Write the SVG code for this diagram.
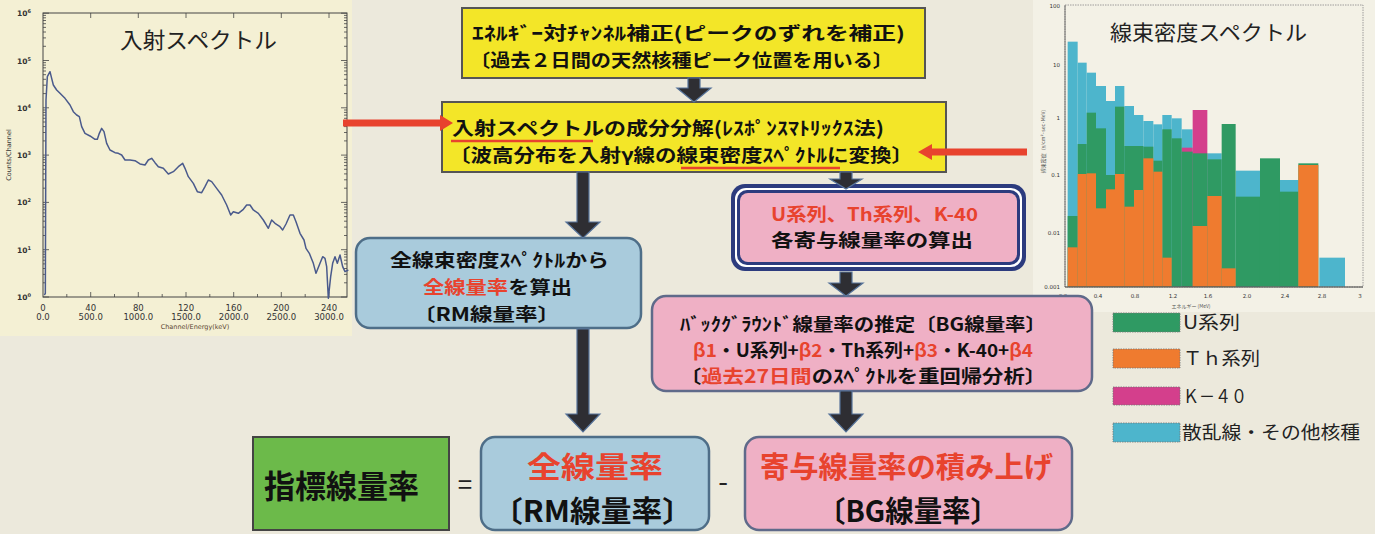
<svg xmlns="http://www.w3.org/2000/svg" width="1375" height="534" viewBox="0 0 1375 534">
<defs>
<style>
.jp{font-family:"Noto Sans CJK JP","Noto Sans",sans-serif;}
.b{font-weight:700;fill:#111;}
.red{fill:#e8432e;}
.ax{font-family:"DejaVu Sans","Liberation Sans",sans-serif;fill:#333;}
.arrow{fill:#2e2e33;stroke:#56739a;stroke-width:1.2;}
.redarrow{fill:#e8432e;}
.cy{fill:#4db5cc;}.gr{fill:#2f9a63;}.or{fill:#ef7b2f;}.mg{fill:#d43f8c;}
.sw{stroke:#777;stroke-width:0.8;stroke-dasharray:1.5 1;}
</style>
<path id="minor" d="M0 282.8h3M0 274.4h3M0 268.5h3M0 263.9h3M0 260.2h3M0 257h3M0 254.3h3M0 251.9h3M0 235.5h3M0 227.1h3M0 221.2h3M0 216.6h3M0 212.9h3M0 209.7h3M0 207h3M0 204.6h3M0 188.2h3M0 179.8h3M0 173.9h3M0 169.3h3M0 165.6h3M0 162.4h3M0 159.7h3M0 157.3h3M0 140.9h3M0 132.5h3M0 126.6h3M0 122h3M0 118.3h3M0 115.1h3M0 112.4h3M0 110h3M0 93.6h3M0 85.2h3M0 79.3h3M0 74.7h3M0 71h3M0 67.8h3M0 65.1h3M0 62.7h3M0 46.3h3M0 37.9h3M0 32h3M0 27.4h3M0 23.7h3M0 20.5h3M0 17.8h3M0 15.4h3M0 297h6M0 249.7h6M0 202.4h6M0 155.1h6M0 107.8h6M0 60.5h6M0 13.2h6" stroke="#444" stroke-width="0.8" fill="none"/>
</defs>
<rect x="0" y="0" width="1375" height="534" fill="#ece9dc"/>

<!-- left chart -->
<g id="chart-left">
<rect x="0" y="0" width="352" height="336" fill="#f4f0d4"/>
<rect x="43" y="13" width="304" height="284" fill="none" stroke="#444" stroke-width="1"/>
<use href="#minor" x="43" y="0"/>
<use href="#minor" transform="translate(347,0) scale(-1,1)"/>
<path d="M90.7 297v-5M138.3 297v-5M186 297v-5M233.7 297v-5M281.3 297v-5M329 297v-5M66.8 297v-3M114.5 297v-3M162.2 297v-3M209.8 297v-3M257.5 297v-3M305.2 297v-3M90.7 13v5M138.3 13v5M186 13v5M233.7 13v5M281.3 13v5M329 13v5" stroke="#444" stroke-width="0.8"/>
<text class="jp" x="120" y="48" font-size="22" fill="#222" textLength="157" lengthAdjust="spacingAndGlyphs">入射スペクトル</text>
<g transform="scale(0.33333)">
<polyline fill="none" stroke="#4a5a8c" stroke-width="4.5" stroke-linejoin="round" points="133,885 136,880 138,300 142,230 150,215 155,235 160,255 170,270 180,280 195,295 210,315 220,335 230,345 238,350 245,380 255,400 270,408 285,418 292,418 298,400 305,385 312,395 320,430 330,450 345,458 355,460 365,465 375,480 390,480 405,482 420,492 435,495 445,480 455,475 465,488 475,500 490,505 505,522 520,515 535,500 548,490 555,505 565,530 580,550 592,575 605,578 615,560 625,540 635,545 650,565 665,585 680,615 692,645 700,635 715,640 730,628 740,615 750,615 760,630 775,640 790,660 805,685 815,660 825,670 840,680 848,690 858,672 870,645 880,645 888,665 900,700 912,720 918,745 928,760 940,790 948,820 960,790 968,770 975,775 980,800 985,895 992,830 998,790 1005,770 1012,790 1020,765 1028,800 1035,815 1045,810"/>
</g>
<g class="ax" font-size="7.5" font-weight="700" text-anchor="end">
<text x="31" y="16">10<tspan dy="-3" font-size="5">6</tspan></text>
<text x="31" y="63.5">10<tspan dy="-3" font-size="5">5</tspan></text>
<text x="31" y="110.8">10<tspan dy="-3" font-size="5">4</tspan></text>
<text x="31" y="158.1">10<tspan dy="-3" font-size="5">3</tspan></text>
<text x="31" y="205.4">10<tspan dy="-3" font-size="5">2</tspan></text>
<text x="31" y="252.7">10<tspan dy="-3" font-size="5">1</tspan></text>
<text x="31" y="300">10<tspan dy="-3" font-size="5">0</tspan></text>
</g>
<g class="ax" font-size="8.5" text-anchor="middle">
<text x="43" y="311">0</text><text x="90.7" y="311">40</text><text x="138.3" y="311">80</text><text x="186" y="311">120</text><text x="233.7" y="311">160</text><text x="281.3" y="311">200</text><text x="329" y="311">240</text>
<text x="43" y="320">0.0</text><text x="90.7" y="320">500.0</text><text x="138.3" y="320">1000.0</text><text x="186" y="320">1500.0</text><text x="233.7" y="320">2000.0</text><text x="281.3" y="320">2500.0</text><text x="329" y="320">3000.0</text>
<text x="195" y="329" font-size="6.5" fill="#5a4630">Channel/Energy(keV)</text>
</g>
<text class="ax" transform="translate(11,155) rotate(-90)" font-size="6.5" text-anchor="middle" fill="#5a4630">Counts/Channel</text>
</g>

<!-- right chart -->
<g id="chart-right">
<rect x="1033" y="0" width="342" height="312" fill="#f3f1e6"/>
<g transform="translate(1030,0) scale(0.33333)">
<g class="cy">
<rect x="113" y="125" width="30" height="735"/><rect x="143" y="188" width="27" height="672"/><rect x="170" y="218" width="28" height="642"/><rect x="198" y="258" width="30" height="602"/><rect x="228" y="303" width="27" height="557"/><rect x="255" y="258" width="28" height="602"/><rect x="283" y="318" width="29" height="542"/><rect x="312" y="345" width="28" height="515"/><rect x="340" y="363" width="30" height="497"/><rect x="370" y="373" width="27" height="487"/><rect x="397" y="345" width="28" height="515"/><rect x="425" y="355" width="30" height="505"/><rect x="455" y="388" width="33" height="472"/><rect x="532" y="460" width="43" height="400"/><rect x="617" y="512" width="73" height="348"/><rect x="750" y="540" width="55" height="320"/><rect x="868" y="773" width="77" height="87"/>
</g>
<g class="mg">
<rect x="455" y="443" width="33" height="417"/><rect x="488" y="330" width="44" height="530"/>
</g>
<g class="gr">
<rect x="113" y="648" width="30" height="212"/><rect x="143" y="432" width="27" height="428"/><rect x="170" y="338" width="28" height="522"/><rect x="198" y="385" width="30" height="475"/><rect x="228" y="525" width="27" height="335"/><rect x="255" y="320" width="28" height="540"/><rect x="283" y="438" width="29" height="422"/><rect x="312" y="438" width="28" height="422"/><rect x="340" y="440" width="30" height="420"/><rect x="370" y="482" width="27" height="378"/><rect x="397" y="388" width="28" height="472"/><rect x="425" y="415" width="30" height="445"/><rect x="455" y="455" width="33" height="405"/><rect x="488" y="460" width="44" height="400"/><rect x="532" y="478" width="43" height="382"/><rect x="575" y="372" width="42" height="488"/><rect x="617" y="590" width="73" height="270"/><rect x="690" y="475" width="60" height="385"/><rect x="750" y="575" width="55" height="285"/><rect x="805" y="490" width="60" height="370"/>
</g>
<g class="or">
<rect x="113" y="742" width="30" height="118"/><rect x="143" y="522" width="27" height="338"/><rect x="170" y="520" width="28" height="340"/><rect x="198" y="625" width="30" height="235"/><rect x="228" y="568" width="27" height="292"/><rect x="255" y="522" width="28" height="338"/><rect x="283" y="620" width="29" height="240"/><rect x="312" y="570" width="28" height="290"/><rect x="340" y="475" width="30" height="385"/><rect x="370" y="515" width="27" height="345"/><rect x="397" y="773" width="28" height="87"/><rect x="488" y="678" width="44" height="182"/><rect x="532" y="588" width="43" height="272"/><rect x="575" y="805" width="42" height="55"/><rect x="805" y="495" width="60" height="365"/>
</g>
</g>
<rect x="1065" y="5" width="298" height="282" fill="none" stroke="#888" stroke-width="0.8" stroke-dasharray="1.5 1"/>
<line x1="1065" y1="287" x2="1363" y2="287" stroke="#444" stroke-width="1"/>
<line x1="1065" y1="5" x2="1065" y2="287" stroke="#555" stroke-width="0.8"/>
<text class="jp" x="1110" y="40" font-size="21" fill="#222" textLength="197" lengthAdjust="spacingAndGlyphs">線束密度スペクトル</text>
<g class="ax" font-size="5.5" fill="#666" text-anchor="end">
<text x="1060" y="8">100</text><text x="1060" y="67">10</text><text x="1060" y="120">1</text><text x="1060" y="177">0.1</text><text x="1060" y="235">0.01</text><text x="1060" y="289">0.001</text>
</g>
<g class="ax" font-size="5.5" fill="#666" text-anchor="middle">
<text x="1063" y="298">0.0</text><text x="1098" y="298">0.4</text><text x="1135" y="298">0.8</text><text x="1173" y="298">1.2</text><text x="1208" y="298">1.6</text><text x="1247" y="298">2.0</text><text x="1285" y="298">2.4</text><text x="1322" y="298">2.8</text><text x="1360" y="298">3</text>
</g>
<text class="jp" x="1191" y="308" font-size="5" fill="#555" text-anchor="middle">エネルギー (MeV)</text>
<text class="jp" transform="translate(1045,140) rotate(-90)" font-size="5" fill="#555" text-anchor="middle">線束密度（γ/cm²·sec·MeV）</text>
</g>

<!-- legend -->
<g id="legend">
<rect class="gr sw" x="1113" y="313" width="67" height="19"/>
<rect class="or sw" x="1113" y="349" width="67" height="19"/>
<rect class="mg sw" x="1113" y="387" width="67" height="18"/>
<rect class="cy sw" x="1113" y="423" width="67" height="19"/>
<g class="jp" font-size="18" fill="#222">
<text x="1183" y="329" textLength="57" lengthAdjust="spacingAndGlyphs">U系列</text>
<text x="1183" y="365" textLength="77" lengthAdjust="spacingAndGlyphs">Ｔｈ系列</text>
<text x="1183" y="403" textLength="64" lengthAdjust="spacingAndGlyphs">Ｋ－４０</text>
<text x="1182" y="439" textLength="178" lengthAdjust="spacingAndGlyphs">散乱線・その他核種</text>
</g>
</g>

<!-- nodes -->
<g id="node-energy-cal">
<rect x="462" y="8" width="463" height="70" fill="#f3e628" stroke="#555" stroke-width="2"/>
<text class="jp b" x="472" y="40" font-size="18" textLength="433" lengthAdjust="spacingAndGlyphs">ｴﾈﾙｷﾞｰ対ﾁｬﾝﾈﾙ補正(ピークのずれを補正)</text>
<text class="jp b" x="470" y="67" font-size="18" textLength="423" lengthAdjust="spacingAndGlyphs">〔過去２日間の天然核種ピーク位置を用いる〕</text>
</g>

<g id="node-decomp">
<rect x="442" y="102" width="504" height="70" fill="#f3e628" stroke="#555" stroke-width="2"/>
<text class="jp b" x="452" y="135" font-size="18.5" textLength="432" lengthAdjust="spacingAndGlyphs">入射スペクトルの成分分解(ﾚｽﾎﾟﾝｽﾏﾄﾘｯｸｽ法)</text>
<text class="jp b" x="449" y="162" font-size="18.5" textLength="464" lengthAdjust="spacingAndGlyphs">〔波高分布を入射γ線の線束密度ｽﾍﾟｸﾄﾙに変換〕</text>
<line x1="451" y1="141" x2="593" y2="141" stroke="#e8432e" stroke-width="2.5"/>
<line x1="681" y1="168" x2="840" y2="168" stroke="#e8432e" stroke-width="2.5"/>
</g>

<g id="node-rm">
<rect x="356" y="238" width="285" height="90" rx="14" fill="#a9cbdc" stroke="#4e6e88" stroke-width="2.5"/>
<text class="jp b" x="390" y="267" font-size="18" textLength="219" lengthAdjust="spacingAndGlyphs">全線束密度ｽﾍﾟｸﾄﾙから</text>
<text class="jp b" x="423" y="294" font-size="18" textLength="149" lengthAdjust="spacingAndGlyphs"><tspan class="red">全線量率</tspan>を算出</text>
<text class="jp b" x="413" y="321" font-size="18" textLength="147" lengthAdjust="spacingAndGlyphs">〔RM線量率〕</text>
</g>

<g id="node-contrib">
<rect x="731" y="184" width="295" height="87" rx="14" fill="#2c3b7e"/>
<rect x="735" y="188" width="287" height="79" rx="11" fill="#ffffff"/>
<rect x="737" y="190" width="283" height="75" rx="10" fill="#2c3b7e"/>
<rect x="740" y="193" width="277" height="69" rx="8" fill="#efb0c5"/>
<text class="jp b red" x="771" y="221" font-size="18" textLength="207" lengthAdjust="spacingAndGlyphs">U系列、Th系列、K-40</text>
<text class="jp b" x="771" y="247" font-size="18" textLength="202" lengthAdjust="spacingAndGlyphs">各寄与線量率の算出</text>
</g>

<g id="node-bg">
<rect x="652" y="296" width="440" height="95" rx="14" fill="#efb0c5" stroke="#5f6a8a" stroke-width="2.5"/>
<text class="jp b" x="680" y="331" font-size="18" textLength="366" lengthAdjust="spacingAndGlyphs">ﾊﾞｯｸｸﾞﾗｳﾝﾄﾞ線量率の推定〔BG線量率〕</text>
<text class="jp b" x="693" y="357" font-size="18" textLength="340" lengthAdjust="spacingAndGlyphs"><tspan class="red">β1</tspan>・U系列+<tspan class="red">β2</tspan>・Th系列+<tspan class="red">β3</tspan>・K-40+<tspan class="red">β4</tspan></text>
<text class="jp b" x="680" y="383" font-size="18" textLength="366" lengthAdjust="spacingAndGlyphs">〔<tspan class="red">過去27日間</tspan>のｽﾍﾟｸﾄﾙを重回帰分析〕</text>
</g>

<g id="node-index">
<rect x="253" y="437" width="196" height="93" fill="#6cba4a" stroke="#444" stroke-width="2"/>
<text class="jp b" x="264" y="498" font-size="32" textLength="155" lengthAdjust="spacingAndGlyphs">指標線量率</text>
</g>
<text class="jp" x="465" y="494" font-size="26" fill="#222" text-anchor="middle">=</text>

<g id="node-total">
<rect x="481" y="437" width="228" height="93" rx="14" fill="#a9cbdc" stroke="#4e6e88" stroke-width="2.5"/>
<text class="jp b red" x="527" y="478" font-size="29" textLength="136" lengthAdjust="spacingAndGlyphs">全線量率</text>
<text class="jp b" x="492" y="522" font-size="29" textLength="201" lengthAdjust="spacingAndGlyphs">〔RM線量率〕</text>
</g>
<text class="jp" x="723" y="492" font-size="28" fill="#222" text-anchor="middle">-</text>

<g id="node-sum">
<rect x="745" y="437" width="327" height="93" rx="14" fill="#efb0c5" stroke="#5f6a8a" stroke-width="2.5"/>
<text class="jp b red" x="760" y="478" font-size="29" textLength="293" lengthAdjust="spacingAndGlyphs">寄与線量率の積み上げ</text>
<text class="jp b" x="817" y="522" font-size="29" textLength="182" lengthAdjust="spacingAndGlyphs">〔BG線量率〕</text>
</g>

<!-- connectors -->
<g id="connectors">
<polygon class="arrow" points="688,78 700,78 700,88 711,88 694,102 677,88 688,88"/>
<polygon class="arrow" points="577,172 589,172 589,222 600,222 583,238 566,222 577,222"/>
<polygon class="arrow" points="577,329 589,329 589,414 600,414 583,432 566,414 577,414"/>
<polygon class="arrow" points="840,172 852,172 852,179 862,179 846,189 830,179 840,179"/>
<polygon class="arrow" points="840,272 852,272 852,283 863,283 846,296 829,283 840,283"/>
<polygon class="arrow" points="840,391 852,391 852,414 863,414 846,432 829,414 840,414"/>
<polygon class="redarrow" points="343,119.5 440,119.5 440,115 453,123 440,131 440,126.5 343,126.5"/>
<polygon class="redarrow" points="1027,148.5 932,148.5 932,144 918,152 932,160 932,155.5 1027,155.5"/>
</g>
</svg>
